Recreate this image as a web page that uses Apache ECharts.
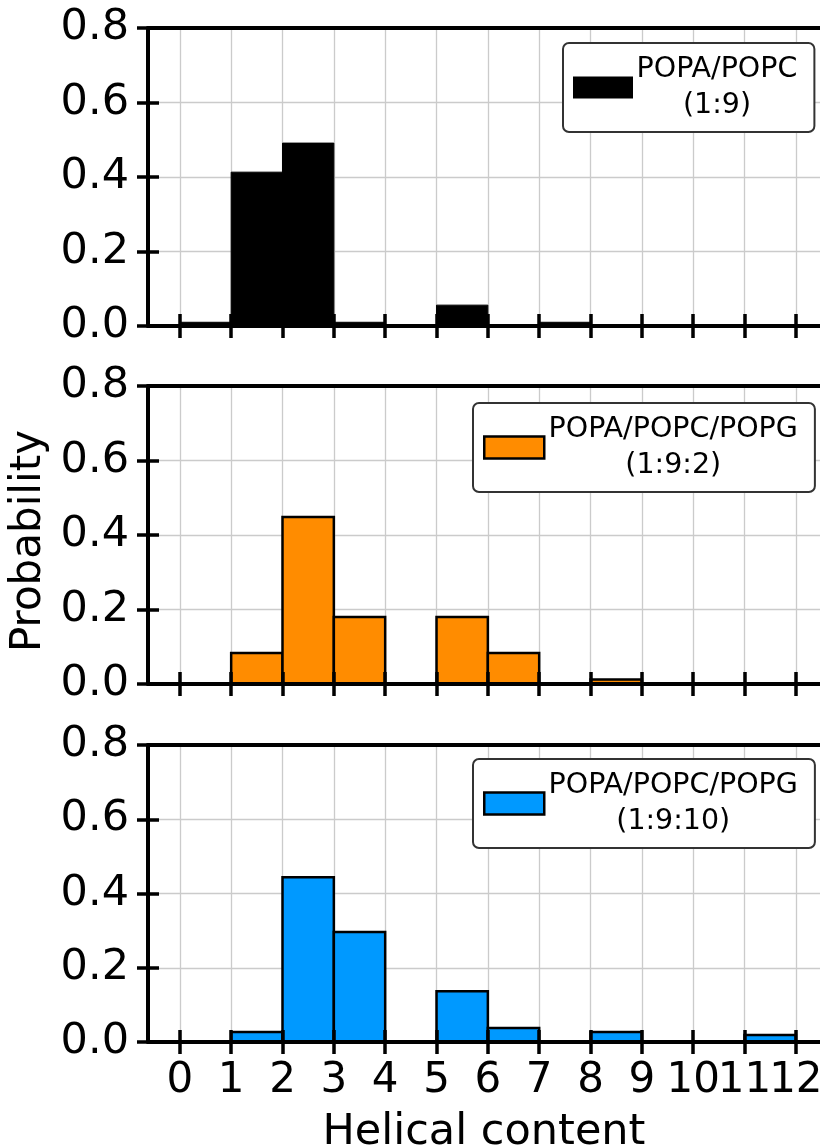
<!DOCTYPE html>
<html>
<head>
<meta charset="utf-8">
<script src="https://cdn.jsdelivr.net/npm/echarts@6/dist/echarts.min.js"></script>
<style>
  html, body { margin: 0; padding: 0; background: #fff; }
  #chart { width: 820px; height: 1146px; }
</style>
</head>
<body>
<div id="chart"></div>
<script>
// Histogram bin edges (helical content, in helices) and per-bin probabilities
const binEdges = [0, 1, 2, 3, 4, 5, 6, 7, 8, 9, 10, 11, 12];
const probPC   = [0.01, 0.413, 0.491, 0.01, 0, 0.056, 0, 0.01, 0, 0, 0, 0];
const probPG2  = [0, 0.083, 0.448, 0.18, 0, 0.18, 0.083, 0, 0.012, 0, 0, 0];
const probPG10 = [0, 0.027, 0.444, 0.296, 0, 0.137, 0.038, 0, 0.027, 0, 0, 0.019];

const seriesNames = ['POPA/POPC\n(1:9)', 'POPA/POPC/POPG\n(1:9:2)', 'POPA/POPC/POPG\n(1:9:10)'];
const seriesColors = ['#000000', '#ff8c00', '#0099ff'];
const xTickValues = [0, 1, 2, 3, 4, 5, 6, 7, 8, 9, 10, 11, 12];
// tick labels are split over two axes so the tightly packed 10/11/12 all stay visible
const xLabelsBack = [0, 1, 2, 3, 4, 5, 6, 7, 8, 9, 10, 12];
const xLabelsFront = [11];
const yTickLabels = ['0.0', '0.2', '0.4', '0.6', '0.8'];

const FONT = 'DejaVu Sans';
const X_MIN = -0.62, X_MAX = 12.47;

// panel rectangles and legend placement
const panels = [
  { top: 28, height: 298, legendTop: 43, legendLeft: 563, textW: 158, probs: probPC },
  { top: 386, height: 298, legendTop: 403, legendLeft: 473, textW: 248, probs: probPG2 },
  { top: 745, height: 297, legendTop: 759, legendLeft: 473, textW: 248, probs: probPG10 }
];

const xLabelStyle = { margin: 18, fontFamily: FONT, fontSize: 42, color: '#000',
                      showMaxLabel: true, showMinLabel: true, hideOverlap: false,
                      formatter: v => String(v) };

const grids = [], xAxes = [], yAxes = [], series = [], legends = [];

panels.forEach((p, i) => {
  const isLast = i === panels.length - 1;
  grids.push({ left: 148, right: 0, top: p.top, height: p.height, outerBoundsMode: 'none' });

  // background x axis: vertical grid, outward ticks, labels, name
  xAxes.push({
    gridIndex: i, type: 'value', min: X_MIN, max: X_MAX, position: 'bottom',
    axisLine: { show: false, onZero: false },
    axisTick: { show: true, inside: false, length: 12, customValues: xTickValues,
                lineStyle: { color: '#000', width: 3.5 } },
    axisLabel: Object.assign({ show: isLast, customValues: xLabelsBack }, xLabelStyle),
    splitLine: { show: true, lineStyle: { color: '#cbcbcb', width: 1.3 } },
    name: isLast ? 'Helical content' : '',
    nameLocation: 'middle', nameGap: 69,
    nameTextStyle: { fontFamily: FONT, fontSize: 43, color: '#000' },
    z: 1
  });
  // foreground x axis: spine and inward half of the ticks
  xAxes.push({
    gridIndex: i, type: 'value', min: X_MIN, max: X_MAX, position: 'bottom',
    axisLine: { show: true, onZero: false, lineStyle: { color: '#000', width: 4 } },
    axisTick: { show: true, inside: true, length: 12, customValues: xTickValues,
                lineStyle: { color: '#000', width: 3.5 } },
    axisLabel: Object.assign({ show: isLast, customValues: xLabelsFront }, xLabelStyle),
    splitLine: { show: false }, z: 3
  });
  // top spine
  xAxes.push({
    gridIndex: i, type: 'value', min: X_MIN, max: X_MAX, position: 'top',
    axisLine: { show: true, onZero: false, lineStyle: { color: '#000', width: 4 } },
    axisTick: { show: false }, axisLabel: { show: false }, splitLine: { show: false }, z: 3
  });

  // background y axis: horizontal grid, outward ticks, labels
  yAxes.push({
    gridIndex: i, type: 'value', min: 0, max: 0.8, interval: 0.2, position: 'left',
    axisLine: { show: false, onZero: false },
    axisTick: { show: true, inside: false, length: 11, lineStyle: { color: '#000', width: 3.5 } },
    axisLabel: { margin: 19, fontFamily: FONT, fontSize: 43, color: '#000',
                 formatter: v => yTickLabels[Math.round(v / 0.2)] },
    splitLine: { show: true, lineStyle: { color: '#cbcbcb', width: 1.3 } },
    name: i === 1 ? 'Probability' : '',
    nameLocation: 'middle', nameGap: 86,
    nameTextStyle: { fontFamily: FONT, fontSize: 42, color: '#000', padding: [0, 12, 0, 0] },
    z: 1
  });
  // foreground y axis: spine and inward half of the ticks
  yAxes.push({
    gridIndex: i, type: 'value', min: 0, max: 0.8, interval: 0.2, position: 'left',
    axisLine: { show: true, onZero: false, lineStyle: { color: '#000', width: 4 } },
    axisTick: { show: true, inside: true, length: 11, lineStyle: { color: '#000', width: 3.5 } },
    axisLabel: { show: false }, splitLine: { show: false }, z: 3
  });

  const data = [];
  p.probs.forEach((v, k) => {
    if (v > 0) data.push([binEdges[k], binEdges[k + 1], v]);
  });
  const color = seriesColors[i];
  const edgeW = i === 0 ? 1 : 2.5;

  series.push({
    name: seriesNames[i],
    type: 'custom',
    xAxisIndex: i * 3,
    yAxisIndex: i * 2,
    itemStyle: { color: color, borderColor: '#000', borderWidth: edgeW },
    encode: { x: [0, 1], y: 2 },
    data: data,
    z: 2,
    renderItem: function (params, api) {
      const p0 = api.coord([api.value(0), api.value(2)]);
      const p1 = api.coord([api.value(1), 0]);
      return {
        type: 'rect',
        shape: { x: p0[0], y: p0[1], width: p1[0] - p0[0], height: p1[1] - p0[1] },
        style: { fill: color, stroke: '#000', lineWidth: edgeW }
      };
    }
  });

  const lines = seriesNames[i].split('\n');
  legends.push({
    data: [{ name: seriesNames[i], icon: 'rect',
             itemStyle: { color: color, borderColor: '#000', borderWidth: i === 0 ? 0 : 2.5 } }],
    left: p.legendLeft, top: p.legendTop,
    orient: 'vertical',
    itemWidth: 60, itemHeight: 22,
    padding: [12, 813 - p.legendLeft - 10 - 60 - 5 - p.textW, 12, 10],
    backgroundColor: '#fff',
    borderColor: '#333', borderWidth: 2, borderRadius: 6,
    selectedMode: false,
    formatter: () => '{a|' + lines[0] + '}\n{a|' + lines[1] + '}',
    textStyle: {
      rich: { a: { width: p.textW, align: 'center', fontFamily: FONT, fontSize: 28.5,
                   lineHeight: 36, color: '#000' } }
    },
    z: 4
  });
});

const chart = echarts.init(document.getElementById('chart'), null, { renderer: 'canvas' });
chart.setOption({
  animation: false,
  backgroundColor: '#fff',
  grid: grids,
  xAxis: xAxes,
  yAxis: yAxes,
  legend: legends,
  series: series
});
</script>
</body>
</html>
